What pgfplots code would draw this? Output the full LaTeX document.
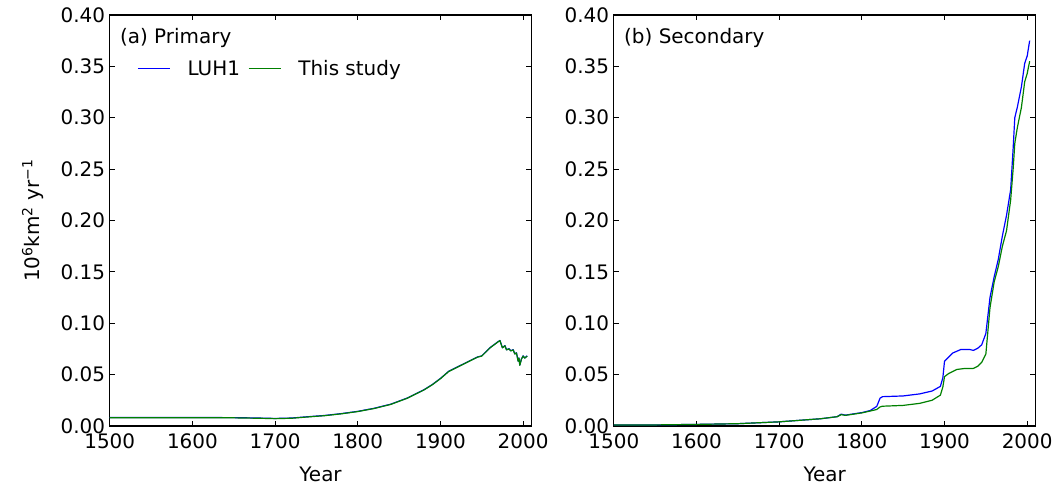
\documentclass[border=0pt]{standalone}
\usepackage{fontspec}
\setmainfont{DejaVu Sans}
\usepackage{pgfplots}
\pgfplotsset{compat=1.18}

\definecolor{luh}{rgb}{0,0,1}
\definecolor{ours}{rgb}{0,0.5,0}

\pgfplotsset{
  panel/.style={
    width=317pt, height=309pt, scale only axis,
    xmin=1500, xmax=2010, ymin=0, ymax=0.4,
    xtick={1500,1600,1700,1800,1900,2000},
    ytick={0,0.05,0.1,0.15,0.2,0.25,0.3,0.35,0.4},
    tick align=inside, major tick length=4pt,
    axis line style={line width=0.9pt},
    every tick/.style={black, line width=0.6pt},
    /pgf/number format/assume math mode=true,
    xticklabel style={yshift=-2pt, /pgf/number format/.cd, 1000 sep={}},
    yticklabel style={/pgf/number format/.cd, fixed, fixed zerofill, precision=2},
    xlabel={Year},
    xlabel style={yshift=-7pt},
    every axis plot/.append style={line width=0.9pt, line join=round},
  }
}

\begin{document}
\begin{tikzpicture}[font=\fontsize{15}{18}\selectfont]
  % (a) Primary
  \begin{axis}[panel, name=left,
      ylabel={10\textsuperscript{6}km\textsuperscript{2} yr\textsuperscript{−1}},
      ylabel style={yshift=6pt},
      legend style={at={(rel axis cs:0.055,0.869)}, anchor=west,
        draw=none, fill=none, legend columns=2,
        /tikz/every odd column/.append style={column sep=11pt},
        /tikz/every even column/.append style={column sep=4pt}},
      legend image code/.code={\draw[#1] (0pt,0pt) -- (24pt,0pt);},
    ]
    \addplot[luh] coordinates {
      (1500,0.0082) (1550,0.0082) (1600,0.0082) (1650,0.0081) (1680,0.0077)
      (1700,0.0073) (1720,0.0077) (1740,0.0090) (1760,0.0102) (1780,0.0120)
      (1800,0.0142) (1820,0.0172) (1840,0.0212) (1860,0.0272) (1880,0.0352)
      (1890,0.0402) (1900,0.0462) (1910,0.0532) (1920,0.0572) (1930,0.0612)
      (1940,0.0652) (1945,0.0672) (1950,0.0682) (1955,0.0722) (1960,0.0762)
      (1965,0.0792) (1970,0.0822) (1972,0.0832) (1975,0.0762) (1978,0.0782)
      (1980,0.0742) (1983,0.0752) (1985,0.0732) (1988,0.0742) (1990,0.0702)
      (1992,0.0712) (1994,0.0632) (1995,0.0662) (1996,0.0592) (1998,0.0652)
      (2000,0.0682) (2002,0.0662) (2005,0.0682)
    };
    \addlegendentry{LUH1}
    \addplot[ours] coordinates {
      (1500,0.0080) (1550,0.0080) (1600,0.0080) (1650,0.0079) (1680,0.0075)
      (1700,0.0071) (1720,0.0075) (1740,0.0088) (1760,0.0100) (1780,0.0118)
      (1800,0.0140) (1820,0.0170) (1840,0.0210) (1860,0.0270) (1880,0.0350)
      (1890,0.0400) (1900,0.0460) (1910,0.0530) (1920,0.0570) (1930,0.0610)
      (1940,0.0650) (1945,0.0670) (1950,0.0680) (1955,0.0720) (1960,0.0760)
      (1965,0.0790) (1970,0.0820) (1972,0.0830) (1975,0.0760) (1978,0.0780)
      (1980,0.0740) (1983,0.0750) (1985,0.0730) (1988,0.0740) (1990,0.0700)
      (1992,0.0710) (1994,0.0630) (1995,0.0660) (1996,0.0590) (1998,0.0650)
      (2000,0.0680) (2002,0.0660) (2005,0.0680)
    };
    \addlegendentry{This study}
    \node[anchor=west, inner sep=0pt] at (rel axis cs:0.024,0.944) {(a) Primary};
  \end{axis}

  % (b) Secondary
  \begin{axis}[panel, at={(left.south east)}, anchor=south west, xshift=62pt]
    \addplot[luh] coordinates {
      (1500,0.0010) (1550,0.0010) (1600,0.0015) (1650,0.0022) (1700,0.0040)
      (1750,0.0070) (1770,0.0090) (1775,0.0115) (1780,0.0105) (1800,0.0130)
      (1810,0.0150) (1818,0.0190) (1822,0.0270) (1825,0.0285) (1850,0.0292)
      (1870,0.0312) (1885,0.0340) (1895,0.0385) (1898,0.0470) (1900,0.0630)
      (1905,0.0670) (1910,0.0710) (1920,0.0745) (1930,0.0745) (1935,0.0735)
      (1940,0.0755) (1945,0.0790) (1950,0.0900) (1955,0.1250) (1960,0.1450)
      (1965,0.1620) (1970,0.1850) (1975,0.2050) (1980,0.2300) (1983,0.2700)
      (1985,0.3000) (1988,0.3100) (1993,0.3300) (1997,0.3530) (2000,0.3600)
      (2003,0.3750)
    };
    \addplot[ours] coordinates {
      (1500,0.0010) (1550,0.0010) (1600,0.0015) (1650,0.0022) (1700,0.0040)
      (1750,0.0070) (1770,0.0090) (1775,0.0110) (1780,0.0103) (1800,0.0127)
      (1810,0.0145) (1818,0.0160) (1822,0.0185) (1825,0.0192) (1850,0.0200)
      (1870,0.0220) (1885,0.0250) (1895,0.0300) (1898,0.0380) (1900,0.0480)
      (1905,0.0510) (1915,0.0550) (1925,0.0560) (1935,0.0560) (1940,0.0580)
      (1945,0.0620) (1950,0.0700) (1955,0.1150) (1960,0.1400) (1965,0.1550)
      (1970,0.1750) (1975,0.1900) (1980,0.2200) (1983,0.2500) (1985,0.2750)
      (1988,0.2900) (1993,0.3100) (1997,0.3350) (2000,0.3430) (2003,0.3550)
    };
    \node[anchor=west, inner sep=0pt] at (rel axis cs:0.024,0.944) {(b) Secondary};
  \end{axis}
  % page margins as in the reference
  \useasboundingbox ([shift={(-82.5pt,-45.75pt)}]left.south west) rectangle ++(792.75pt,366pt);
\end{tikzpicture}
\end{document}
